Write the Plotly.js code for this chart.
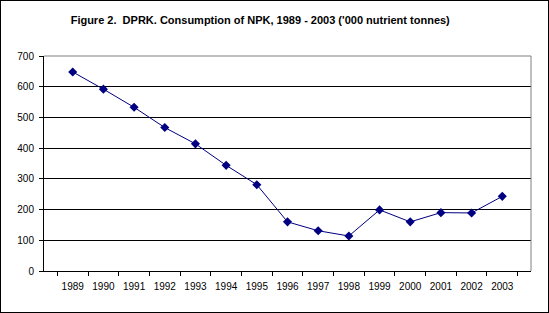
<!DOCTYPE html>
<html><head><meta charset="utf-8">
<script src="https://cdn.plot.ly/plotly-3.0.1.min.js"></script>
<style>
html,body{margin:0;padding:0;background:#fff;}
#wrap{position:relative;width:549px;height:313px;}
#chart{width:549px;height:313px;}
#frame{position:absolute;left:0;top:0;width:549px;height:313px;box-sizing:border-box;border:1px solid #000;pointer-events:none;}
</style></head>
<body>
<div id="wrap"><div id="chart"></div><div id="frame"></div></div>
<script>
const years = ['1989','1990','1991','1992','1993','1994','1995','1996','1997','1998','1999','2000','2001','2002','2003'];
const npk = [648, 592, 533, 467, 414, 344, 281, 160, 131, 114, 199, 160, 190, 189, 243];
const yTicks = [0, 100, 200, 300, 400, 500, 600, 700];
const titleText = "Figure 2.  DPRK. Consumption of NPK, 1989 - 2003 ('000 nutrient tonnes)";

const trace = {
  x: years, y: npk, type: 'scatter', mode: 'lines+markers',
  line: {color: '#000080', width: 1},
  marker: {symbol: 'diamond', size: 7, color: '#000080'},
  hoverinfo: 'skip'
};
const layout = {
  width: 549, height: 313,
  margin: {l: 44, r: 18, t: 56, b: 42},
  paper_bgcolor: '#fff', plot_bgcolor: '#fff',
  font: {family: 'Arial, "Liberation Sans", sans-serif', size: 10, color: '#000'},
  title: {text: '<b>' + titleText + '</b>', x: 0.474, xanchor: 'center', y: 0.935, yanchor: 'middle',
          font: {family: 'Arial, "Liberation Sans", sans-serif', size: 11, color: '#000'}},
  showlegend: false,
  xaxis: {type: 'category', tickson: 'boundaries', ticks: 'outside', ticklen: 4, tickcolor: '#000',
          tickangle: 0, automargin: false, ticklabelstandoff: 6,
          showline: true, linecolor: '#000', linewidth: 1, showgrid: false, zeroline: false,
          tickfont: {size: 10}, fixedrange: true},
  yaxis: {range: [0, 700], tickvals: yTicks, ticktext: yTicks.map(String), ticks: 'outside', ticklen: 4,
          tickcolor: '#000', showline: true, linecolor: '#000', linewidth: 1, automargin: false,
          ticklabelstandoff: 3,
          showgrid: true, gridcolor: '#000', gridwidth: 1, zeroline: false,
          tickfont: {size: 10}, fixedrange: true},
  shapes: [
    {type: 'line', xref: 'paper', yref: 'paper', x0: 0, x1: 1, y0: 1, y1: 1, line: {color: '#808080', width: 1}, layer: 'above'},
    {type: 'line', xref: 'paper', yref: 'paper', x0: 1, x1: 1, y0: 0, y1: 1, line: {color: '#808080', width: 1}, layer: 'above'}
  ]
};
Plotly.newPlot('chart', [trace], layout, {staticPlot: true});
</script>
</body></html>
